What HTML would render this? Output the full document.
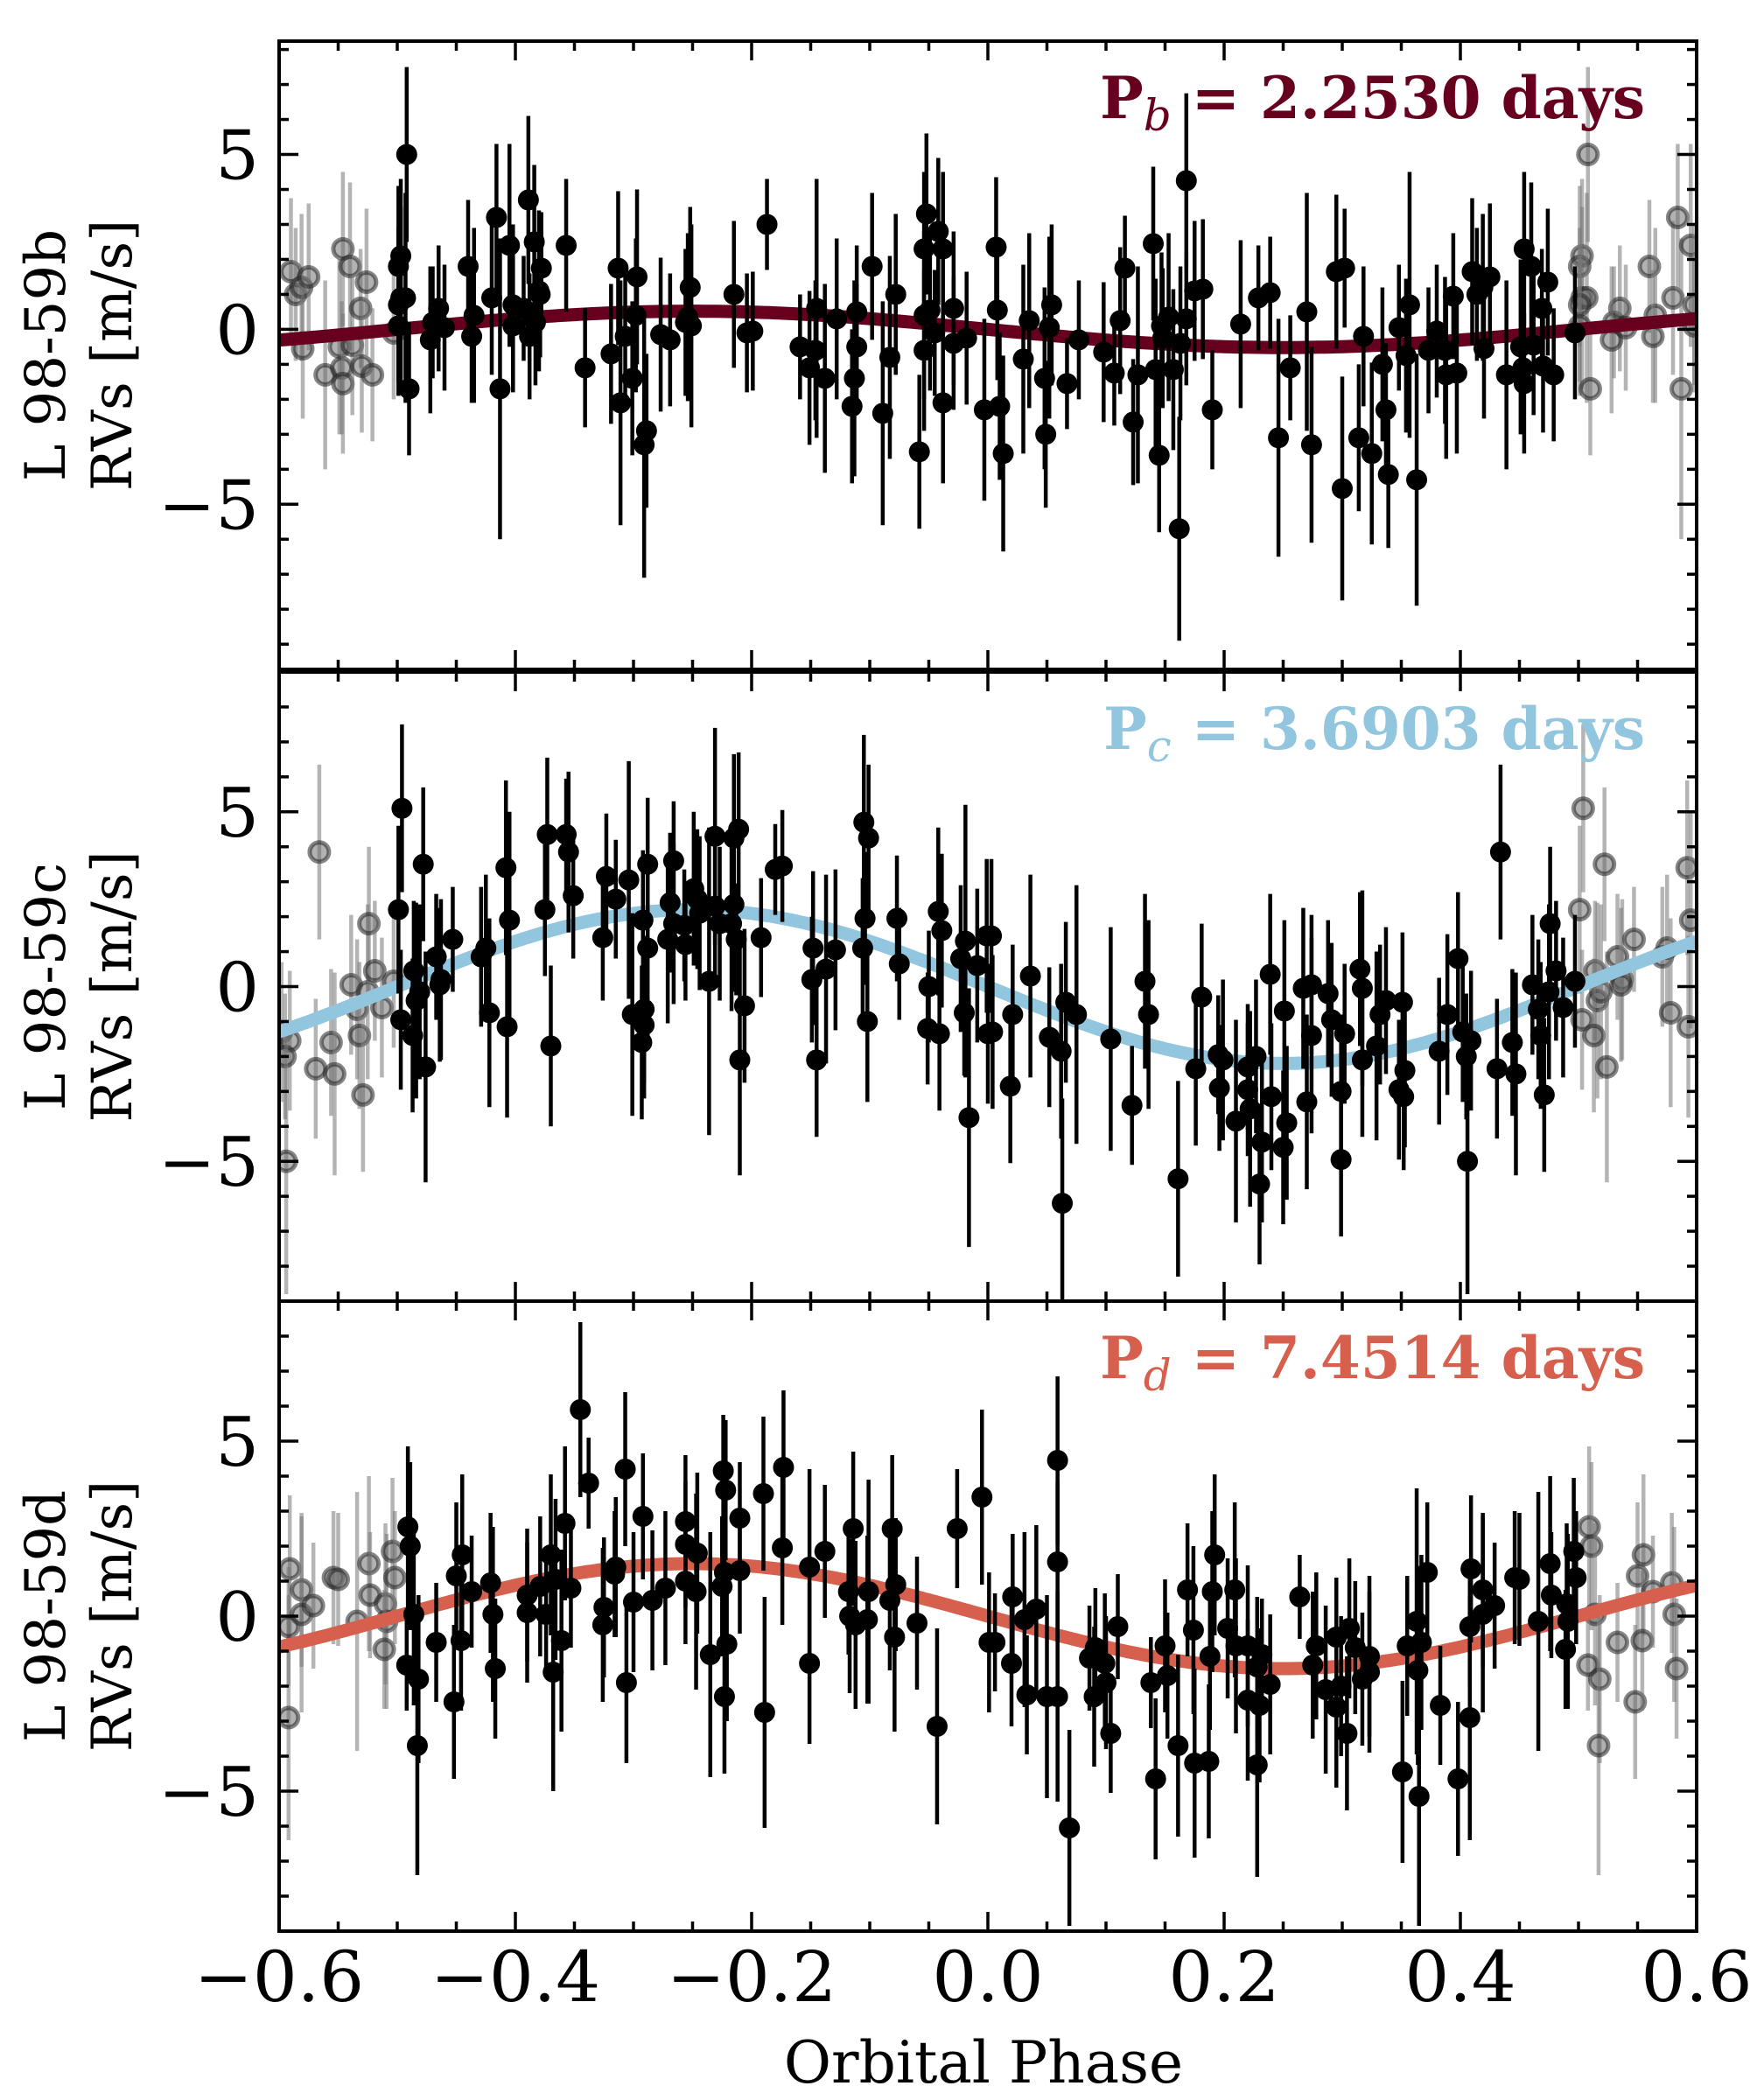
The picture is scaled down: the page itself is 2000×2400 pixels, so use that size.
<!DOCTYPE html>
<html><head><meta charset="utf-8"><style>
html,body{margin:0;padding:0;background:#fff;}
svg{display:block;}
text{font-family:"DejaVu Serif","Liberation Serif",serif;}
</style></head><body>
<svg id="fig" width="2000" height="2400" viewBox="0 0 2000 2400" xmlns="http://www.w3.org/2000/svg"></svg>
<script>
// ---- data (phase, RV [m/s], error [m/s]) ----
const ptsB = [[-0.492,5.0,2.5],[-0.497,2.1,2.2],[-0.499,1.8,2.3],[-0.497,0.9,2.6],[-0.493,0.9,3.0],[-0.499,0.7,2.2],[-0.499,0.1,2.0],[-0.49,-1.7,1.9],[-0.47,0.2,1.6],[-0.465,0.6,1.8],[-0.472,-0.3,2.1],[-0.46,0.05,1.8],[-0.44,1.8,1.9],[-0.435,0.4,2.5],[-0.437,-0.2,1.9],[-0.42,0.9,2.2],[-0.416,3.2,2.1],[-0.413,-1.7,4.3],[-0.405,2.4,2.9],[-0.402,0.7,2.3],[-0.402,0.1,1.9],[-0.393,0.6,1.5],[-0.389,3.7,2.4],[-0.384,2.5,2.2],[-0.378,1.75,1.6],[-0.38,1.1,2.3],[-0.379,1.0,1.8],[-0.383,0.2,1.8],[-0.388,-0.2,1.8],[-0.357,2.4,1.9],[-0.341,-1.1,1.7],[-0.319,-0.7,2.0],[-0.313,1.75,2.2],[-0.307,-0.2,1.8],[-0.301,-1.4,2.2],[-0.311,-2.1,3.5],[-0.297,1.5,2.5],[-0.298,0.4,2.2],[-0.289,-2.9,2.2],[-0.291,-3.3,3.8],[-0.277,-0.15,2.2],[-0.269,-0.3,1.9],[-0.252,1.2,2.3],[-0.254,0.35,2.4],[-0.256,0.2,2.1],[-0.251,0.1,2.9],[-0.215,1.0,2.1],[-0.204,-0.1,1.7],[-0.199,-0.05,1.7],[-0.187,3.0,1.3],[-0.159,-0.5,1.5],[-0.151,-1.1,2.2],[-0.146,-0.6,2.0],[-0.145,0.6,3.7],[-0.138,-1.4,2.7],[-0.128,0.3,2.3],[-0.111,0.5,1.9],[-0.111,-0.5,1.8],[-0.113,-1.4,2.8],[-0.115,-2.2,2.2],[-0.098,1.8,2.1],[-0.089,-2.4,3.2],[-0.083,-0.8,2.9],[-0.078,1.0,2.3],[-0.058,-3.5,2.2],[-0.054,2.3,2.2],[-0.052,3.3,2.3],[-0.042,2.8,2.1],[-0.038,2.3,2.2],[-0.054,0.4,2.4],[-0.049,0.55,2.3],[-0.045,-0.1,1.8],[-0.054,-0.6,2.3],[-0.038,-2.1,2.3],[-0.029,0.6,2.2],[-0.029,-0.4,1.9],[-0.018,-0.25,1.9],[-0.003,-2.3,2.6],[0.007,2.35,2.0],[0.008,0.55,2.0],[0.01,-2.2,2.1],[0.013,-3.55,2.8],[0.03,-0.85,2.7],[0.035,0.25,2.5],[0.048,-1.4,2.6],[0.054,0.7,2.3],[0.052,0.05,2.6],[0.049,-3.0,2.1],[0.067,-1.55,1.3],[0.077,-0.3,1.7],[0.098,-0.65,2.0],[0.107,-1.25,1.5],[0.112,0.25,2.1],[0.116,1.75,1.5],[0.123,-2.65,1.8],[0.127,-1.3,3.1],[0.14,2.45,2.2],[0.142,-1.15,2.6],[0.145,-3.6,2.2],[0.147,0.1,2.1],[0.148,-0.25,2.0],[0.153,0.35,2.4],[0.157,-1.15,2.3],[0.163,-0.4,2.2],[0.168,4.25,2.5],[0.168,0.3,1.9],[0.175,1.1,2.0],[0.182,1.15,2.0],[0.162,-5.7,3.2],[0.19,-2.3,1.7],[0.214,0.15,2.4],[0.229,0.9,1.5],[0.239,1.05,1.6],[0.246,-3.1,3.4],[0.256,-1.1,1.5],[0.27,0.5,3.4],[0.274,-3.3,2.8],[0.295,1.65,2.2],[0.302,1.75,1.7],[0.3,-4.55,3.2],[0.314,-3.1,2.1],[0.318,-0.2,2.0],[0.325,-3.55,2.6],[0.334,-1.0,2.2],[0.337,-2.3,1.9],[0.339,-4.15,2.1],[0.348,0.05,1.8],[0.354,-0.75,2.2],[0.357,0.7,3.8],[0.363,-4.3,3.6],[0.373,-0.6,1.8],[0.38,-0.05,1.9],[0.387,-0.6,2.1],[0.388,-1.3,2.4],[0.394,0.95,1.8],[0.397,-1.25,2.3],[0.41,1.65,2.1],[0.414,1.0,1.9],[0.419,1.2,2.1],[0.42,-0.55,2.0],[0.425,1.5,2.1],[0.439,-1.3,2.7],[0.451,-0.5,2.5],[0.453,-1.1,1.9],[0.454,-1.55,2.0],[0.454,2.3,2.2],[0.46,1.8,2.4],[0.462,-0.45,2.0],[0.469,0.6,1.7],[0.47,-1.05,1.9],[0.474,1.35,2.1],[0.479,-1.3,1.9],[0.497,-0.1,1.9]];
const ptsC = [[-0.496,5.1,2.4],[-0.499,2.2,2.4],[-0.497,-0.95,2.0],[-0.478,3.5,2.2],[-0.486,0.45,2.0],[-0.484,-0.4,2.8],[-0.481,-0.15,2.5],[-0.487,-1.4,2.2],[-0.476,-2.3,3.3],[-0.467,0.85,1.8],[-0.463,0.2,2.3],[-0.464,0.05,2.2],[-0.453,1.35,1.5],[-0.429,0.85,2.0],[-0.425,1.1,2.1],[-0.422,-0.75,2.7],[-0.408,3.4,2.5],[-0.405,1.9,3.1],[-0.407,-1.15,2.6],[-0.375,2.2,1.9],[-0.373,4.35,2.2],[-0.37,-1.7,2.3],[-0.357,4.35,1.6],[-0.355,3.85,2.3],[-0.351,2.6,1.8],[-0.326,1.4,1.8],[-0.323,3.15,1.8],[-0.315,2.5,1.7],[-0.304,3.05,3.4],[-0.301,-0.8,2.9],[-0.292,1.9,2.0],[-0.288,3.5,1.9],[-0.288,1.1,2.6],[-0.291,-0.65,2.1],[-0.291,-1.1,2.1],[-0.293,-1.6,2.2],[-0.271,1.35,2.4],[-0.269,2.4,2.0],[-0.266,3.6,1.7],[-0.266,1.8,2.3],[-0.257,1.75,1.6],[-0.256,1.2,1.6],[-0.249,2.8,2.2],[-0.246,2.5,2.0],[-0.244,2.1,2.2],[-0.236,0.15,4.4],[-0.231,4.3,3.1],[-0.231,2.3,2.3],[-0.227,1.8,2.2],[-0.217,1.8,2.5],[-0.215,4.25,2.4],[-0.211,4.5,2.2],[-0.215,2.35,2.5],[-0.213,1.35,1.6],[-0.206,-0.55,2.2],[-0.21,-2.1,3.3],[-0.192,1.4,1.7],[-0.18,3.35,1.3],[-0.174,3.45,1.6],[-0.148,1.1,2.2],[-0.149,0.2,1.8],[-0.145,-2.1,2.2],[-0.137,0.5,2.7],[-0.129,1.05,2.3],[-0.105,4.7,2.5],[-0.101,4.25,2.1],[-0.104,1.95,1.9],[-0.106,1.1,2.0],[-0.102,-1.0,2.3],[-0.077,1.95,1.8],[-0.075,0.65,1.6],[-0.05,0,1.6],[-0.051,-1.2,1.6],[-0.042,2.15,2.4],[-0.039,1.6,2.2],[-0.041,-1.35,2.2],[-0.023,0.8,2.1],[-0.019,1.3,3.9],[-0.02,-0.75,1.8],[-0.016,-3.75,3.7],[-0.009,0.6,2.2],[-0.001,1.45,2.2],[0,-1.35,2.0],[0.003,1.45,2.2],[0.004,-1.3,2.2],[0.019,-2.85,2.2],[0.021,-0.8,2.0],[0.036,0.3,2.9],[0.052,-1.45,2.0],[0.062,-1.85,2.5],[0.063,-6.2,3.0],[0.066,-0.45,2.3],[0.075,-0.8,3.7],[0.104,-1.5,3.2],[0.122,-3.4,1.7],[0.133,0.15,2.5],[0.136,-0.8,2.7],[0.161,-5.5,2.8],[0.176,-2.35,2.2],[0.181,-0.3,2.1],[0.195,-1.95,1.7],[0.199,-2.1,2.3],[0.196,-2.9,1.8],[0.21,-3.85,2.9],[0.22,-2.3,1.8],[0.22,-2.95,1.9],[0.227,-2.0,2.2],[0.222,-3.5,2.8],[0.23,-5.65,2.3],[0.232,-4.45,2.3],[0.239,0.35,2.3],[0.24,-3.15,2.1],[0.251,-0.7,2.6],[0.253,-3.9,2.2],[0.25,-4.6,2.2],[0.267,-0.05,2.3],[0.274,0.05,2.0],[0.274,-1.4,2.8],[0.27,-3.3,2.5],[0.288,-0.2,2.1],[0.291,-0.95,2.2],[0.299,-3.0,2.2],[0.299,-4.95,2.2],[0.302,-1.35,2.0],[0.315,0.5,2.2],[0.317,-0.05,2.8],[0.317,-2.1,2.2],[0.329,-1.7,2.7],[0.332,-0.8,2.0],[0.337,-0.4,2.1],[0.351,-0.45,2.0],[0.353,-2.4,2.2],[0.348,-2.95,2.0],[0.352,-3.15,2.1],[0.382,-1.85,2.1],[0.389,-0.8,2.3],[0.398,0.8,1.9],[0.402,-1.3,2.0],[0.409,-1.55,2.0],[0.405,-2.0,1.8],[0.406,-5.0,3.8],[0.431,-2.35,2.0],[0.434,3.85,2.5],[0.444,-1.6,2.1],[0.447,-2.5,2.9],[0.461,0.05,2.0],[0.466,-0.65,2.0],[0.468,-1.4,2.1],[0.471,-3.1,2.2],[0.475,-0.15,2.5],[0.476,1.8,2.2],[0.481,0.45,2.0],[0.487,-0.6,2.0],[0.497,0.15,1.9]];
const ptsD = [[-0.491,2.55,2.3],[-0.489,2.0,2.4],[-0.486,0.05,2.6],[-0.492,-1.4,1.3],[-0.482,-1.8,2.4],[-0.483,-3.7,3.7],[-0.467,-0.75,1.7],[-0.45,1.15,2.1],[-0.445,1.75,2.3],[-0.452,-2.45,2.2],[-0.446,-0.7,2.0],[-0.437,0.7,1.6],[-0.421,0.95,2.0],[-0.419,0.05,2.5],[-0.417,-1.5,2.0],[-0.39,0.6,1.9],[-0.39,0.1,2.0],[-0.379,0.85,2.0],[-0.374,0.05,1.6],[-0.37,1.75,2.3],[-0.366,1.05,2.3],[-0.353,0.8,1.7],[-0.361,-0.7,2.6],[-0.368,-1.6,3.4],[-0.358,2.65,2.2],[-0.345,5.9,2.5],[-0.338,3.8,1.3],[-0.325,0.25,2.0],[-0.326,-0.25,2.2],[-0.315,1.4,2.0],[-0.316,1.2,1.8],[-0.307,4.2,2.2],[-0.3,0.4,2.0],[-0.306,-1.9,2.3],[-0.292,2.85,1.8],[-0.284,0.45,2.0],[-0.273,0.8,2.2],[-0.256,2.7,1.9],[-0.256,2.05,1.8],[-0.256,1.0,1.8],[-0.247,0.7,2.8],[-0.246,1.8,2.3],[-0.235,-1.1,3.5],[-0.224,4.15,1.6],[-0.222,3.6,2.0],[-0.223,1.25,2.2],[-0.225,0.85,2.0],[-0.221,-0.8,2.2],[-0.223,-2.3,2.2],[-0.21,2.8,1.6],[-0.21,1.3,1.8],[-0.19,3.5,2.2],[-0.189,-2.75,3.3],[-0.173,4.25,2.2],[-0.174,1.95,2.2],[-0.151,1.4,2.8],[-0.151,-1.35,2.3],[-0.138,1.85,1.9],[-0.118,0.7,1.8],[-0.117,0,2.2],[-0.112,-0.25,2.4],[-0.114,2.5,2.2],[-0.101,0.7,3.2],[-0.102,-0.1,2.4],[-0.083,0.45,2.0],[-0.081,2.5,2.1],[-0.078,0.9,1.9],[-0.079,-0.6,2.7],[-0.06,-0.2,1.9],[-0.043,-3.15,2.8],[-0.026,2.5,1.7],[-0.005,3.4,2.5],[0.001,-0.75,2.0],[0.006,-0.75,1.4],[0.021,0.55,1.8],[0.02,-1.35,1.8],[0.031,-0.1,2.5],[0.033,-2.25,1.7],[0.041,0.2,2.4],[0.05,-2.3,2.9],[0.059,4.45,2.4],[0.059,1.55,2.3],[0.059,-2.3,3.0],[0.069,-6.05,2.8],[0.086,-1.2,1.5],[0.091,-0.9,1.7],[0.09,-2.3,2.0],[0.099,-1.35,2.0],[0.1,-1.9,1.9],[0.104,-3.35,1.7],[0.11,-0.3,1.5],[0.138,-1.9,1.3],[0.142,-4.65,2.3],[0.15,-0.85,1.9],[0.152,-1.7,1.8],[0.161,-3.7,2.6],[0.169,0.75,1.9],[0.174,-0.4,2.4],[0.175,-4.2,2.7],[0.187,-4.15,2.2],[0.188,-1.15,2.1],[0.192,1.75,2.3],[0.19,0.7,2.3],[0.209,0.75,2.5],[0.203,-0.35,2.0],[0.21,-0.85,2.5],[0.22,-0.85,2.3],[0.22,-2.4,2.3],[0.228,-1.45,2.0],[0.232,-1.1,1.6],[0.23,-2.55,2.2],[0.239,-1.95,2.0],[0.228,-4.25,3.2],[0.264,0.55,1.2],[0.275,-1.4,2.1],[0.278,-0.85,2.1],[0.286,-2.1,2.4],[0.295,-0.6,1.7],[0.295,-2.6,2.3],[0.299,-2.0,2.0],[0.304,-3.35,2.2],[0.306,-0.35,2.0],[0.311,-0.9,1.9],[0.323,-1.15,2.3],[0.323,-1.6,2.3],[0.317,-1.8,1.9],[0.351,-4.45,2.6],[0.355,-0.85,2.0],[0.363,-0.15,3.8],[0.367,-0.75,2.5],[0.364,-1.55,2.7],[0.365,-5.15,3.7],[0.372,1.25,2.0],[0.383,-2.55,1.7],[0.398,-4.65,2.2],[0.408,-2.9,3.5],[0.409,1.35,2.1],[0.408,-0.3,1.7],[0.419,0.75,2.2],[0.419,0.05,2.8],[0.429,0.3,1.8],[0.446,1.1,1.9],[0.45,1.05,1.9],[0.466,-0.15,3.7],[0.476,1.5,2.5],[0.477,0.6,1.8],[0.49,0.35,2.3],[0.491,-0.15,2.5],[0.489,-0.95,1.7],[0.496,1.85,2.1],[0.498,1.1,1.9]];
const amplitudes = [0.52, 2.2, 1.5];      // model semi-amplitudes K [m/s]
const planetLabels = ["b", "c", "d"];
const periods = ["2.2530", "3.6903", "7.4514"];
const curveColors = ["#67001f", "#92c5de", "#d6604d"];
const xTicks = [-0.6, -0.4, -0.2, 0.0, 0.2, 0.4, 0.6];
const yTicks = [-5, 0, 5];

const NS = "http://www.w3.org/2000/svg";
const svg = document.getElementById("fig");
const X0 = 319, X1 = 1939;
const panels = [
  {top: 47, bot: 765, ymin: -9.72, ymax: 8.24, pts: ptsB},
  {top: 768, bot: 1487, ymin: -9, ymax: 9, pts: ptsC},
  {top: 1487, bot: 2207, ymin: -9, ymax: 9, pts: ptsD}
];
function xs(p){ return X0 + (p + 0.6) / 1.2 * (X1 - X0); }
function mk(tag, attrs, parent){
  const e = document.createElementNS(NS, tag);
  for (const k in attrs) e.setAttribute(k, attrs[k]);
  (parent || svg).appendChild(e);
  return e;
}

panels.forEach((P, i) => {
  const ys = v => P.bot - (v - P.ymin) / (P.ymax - P.ymin) * (P.bot - P.top);
  const g = mk("g", {});
  
  
  const clipId = "clip" + i;
  const cp = mk("clipPath", {id: clipId}, g);
  mk("rect", {x: X0, y: P.top, width: X1 - X0, height: P.bot - P.top}, cp);
  const plot = mk("g", {"clip-path": "url(#" + clipId + ")"}, g);

  // wrapped (grey) copies
  const grey = mk("g", {}, plot);
  
  
  P.pts.forEach(d => {
    let p2 = null;
    if (d[0] > 0.4) p2 = d[0] - 1; else if (d[0] < -0.4) p2 = d[0] + 1;
    if (p2 === null) return;
    const ln = mk("line", {x1: xs(p2), x2: xs(p2), y1: ys(d[1] - d[2]), y2: ys(d[1] + d[2]), stroke: "#777", "stroke-width": 4.5, "stroke-opacity": 0.55}, grey);
    
    
    const c = mk("circle", {cx: xs(p2), cy: ys(d[1]), r: 11, fill: "#666", "fill-opacity": 0.5, stroke: "#222", "stroke-opacity": 0.55, "stroke-width": 5}, grey);
    
    
  });

  // model curve
  let dstr = "";
  for (let k = 0; k <= 240; k++) {
    const p = -0.6 + 1.2 * k / 240;
    const v = -amplitudes[i] * Math.sin(2 * Math.PI * p);
    dstr += (k ? "L" : "M") + xs(p).toFixed(1) + " " + ys(v).toFixed(1);
  }
  const curve = mk("path", {d: dstr, fill: "none", stroke: curveColors[i], "stroke-width": 15}, plot);
  
  

  // black data
  const blk = mk("g", {}, plot);
  
  
  P.pts.forEach(d => {
    const ln = mk("line", {x1: xs(d[0]), x2: xs(d[0]), y1: ys(d[1] - d[2]), y2: ys(d[1] + d[2]), stroke: "#000", "stroke-width": 4.5}, blk);
    
    
  });
  P.pts.forEach(d => {
    const c = mk("circle", {cx: xs(d[0]), cy: ys(d[1]), r: 12, fill: "#000"}, blk);
    
    
  });

  // ticks
  const tk = mk("g", {stroke: "#000", "stroke-width": 3.5}, g);
  
  
  for (let k = -12; k <= 12; k++) {
    const p = k * 0.05, x = xs(p);
    const major = (k % 4 === 0);
    const L = major ? 22 : 11;
    mk("line", {x1: x, x2: x, y1: P.bot, y2: P.bot - L}, tk);
    mk("line", {x1: x, x2: x, y1: P.top, y2: P.top + L}, tk);
  }
  for (let v = Math.ceil(P.ymin); v <= Math.floor(P.ymax); v++) {
    const y = ys(v), L = (v % 5 === 0) ? 22 : 11;
    mk("line", {x1: X0, x2: X0 + L, y1: y, y2: y}, tk);
    mk("line", {x1: X1, x2: X1 - L, y1: y, y2: y}, tk);
  }
  yTicks.forEach(v => {
    const t = mk("text", {x: 296, y: ys(v) + 28, "text-anchor": "end", "font-size": 78, fill: "#000"}, g);
    t.textContent = v < 0 ? "\u2212" + Math.abs(v) : String(v);
    
    
  });

  // frame
  const fr = mk("rect", {x: X0, y: P.top, width: X1 - X0, height: P.bot - P.top, fill: "none", stroke: "#000", "stroke-width": 4}, g);
  
  

  // y-axis label
  const cy = (P.top + P.bot) / 2;
  const yl = mk("text", {transform: "translate(74," + cy + ") rotate(-90)", "text-anchor": "middle", "font-size": 64, fill: "#000"}, g);
  yl.textContent = "L 98-59" + planetLabels[i];
  
  
  const yl2 = mk("text", {transform: "translate(150," + cy + ") rotate(-90)", "text-anchor": "middle", "font-size": 64, fill: "#000"}, g);
  yl2.textContent = "RVs [m/s]";
  
  

  // period annotation
  const pt = mk("text", {x: 1880, y: P.top + 88, "text-anchor": "end", "font-size": 66, "font-weight": "bold", fill: curveColors[i]}, g);
  const t1 = mk("tspan", {}, pt); t1.textContent = "P";
  const t2 = mk("tspan", {"font-style": "italic", "font-weight": "normal", "font-size": 50, dy: 14}, pt); t2.textContent = planetLabels[i];
  const t3 = mk("tspan", {dy: -14}, pt); t3.textContent = " = " + periods[i] + " days";
  
  
});

xTicks.forEach(p => {
  const t = mk("text", {x: xs(p), y: 2287, "text-anchor": "middle", "font-size": 80, fill: "#000"});
  t.textContent = (p < 0 ? "\u2212" : "") + Math.abs(p).toFixed(1);
  
  
});
const xl = mk("text", {x: 1124, y: 2380, "text-anchor": "middle", "font-size": 66, fill: "#000"});
xl.textContent = "Orbital Phase";


</script>
</body></html>
